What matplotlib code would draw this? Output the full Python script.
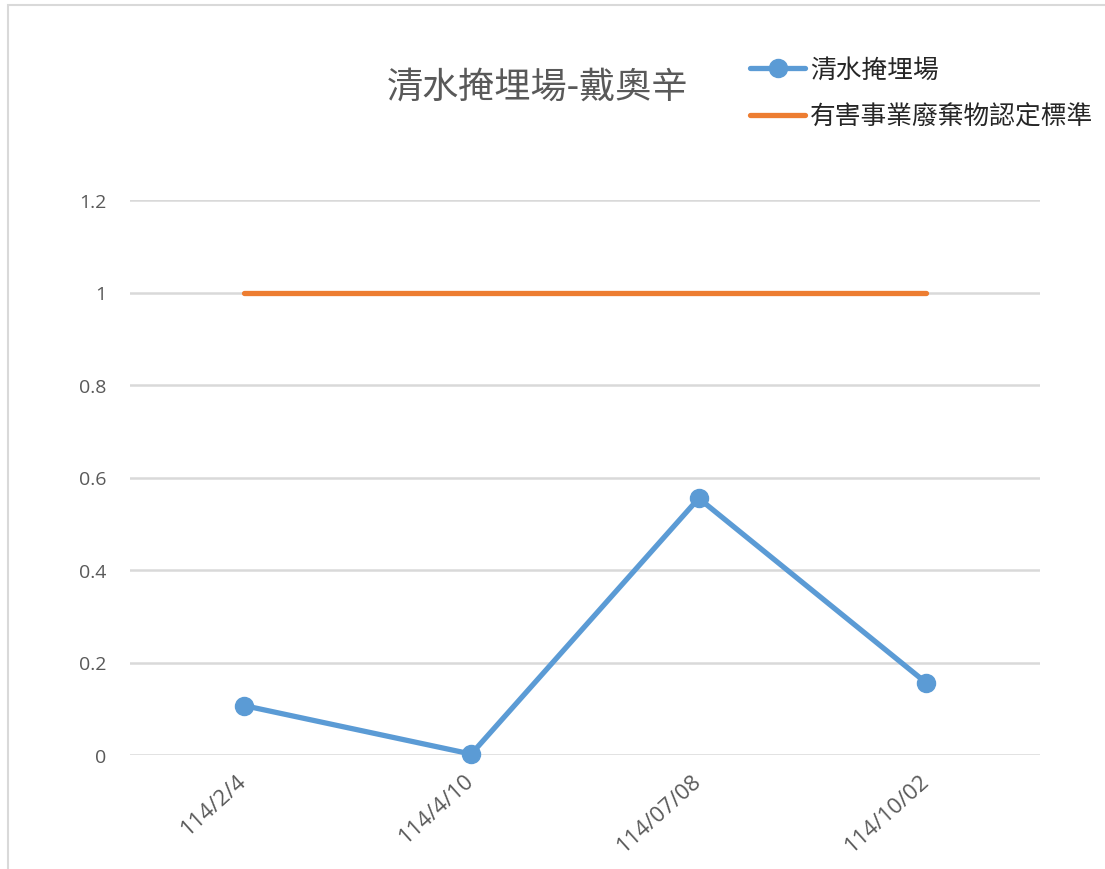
import matplotlib
matplotlib.use('Agg')
import matplotlib.pyplot as plt
from matplotlib.patches import Rectangle

# data
dates = ['114/2/4', '114/4/10', '114/07/08', '114/10/02']
dioxin = [0.107, 0.002, 0.555, 0.156]
standard = [1, 1, 1, 1]
yticks = [0, 0.2, 0.4, 0.6, 0.8, 1, 1.2]
ytick_labels = ['0', '0.2', '0.4', '0.6', '0.8', '1', '1.2']

title = '清水掩埋場-戴奧辛'
name_site = '清水掩埋場'
name_std = '有害事業廢棄物認定標準'

cjk = ['Noto Sans CJK TC', 'DejaVu Sans']
text_grey = '#595959'
blue = '#5B9BD5'
orange = '#ED7D31'

fig = plt.figure(figsize=(11.05, 8.70), dpi=100)
W, H = 1105, 870

# light frame of the chart area (right and bottom edges fall outside the image)
fig.patches.append(Rectangle((8 / W, -0.1), 1.2, 1.1 - 6 / H, transform=fig.transFigure,
                             fill=False, edgecolor='#D9D9D9', linewidth=1.5))

ax = fig.add_axes([130 / W, 1 - 756 / H, 910 / W, (756 - 201) / H])
x = list(range(len(dates)))

ax.plot(x, dioxin, color=blue, linewidth=3.8, marker='o', markersize=13,
        solid_capstyle='round', label=name_site, zorder=3, clip_on=False)
ax.plot(x, standard, color=orange, linewidth=3.8, solid_capstyle='round',
        label=name_std, zorder=3)

ax.set_xlim(-0.5, len(dates) - 0.5)
ax.set_ylim(0, 1.2)
ax.set_yticks(yticks)
ax.set_yticklabels(ytick_labels, fontfamily='Open Sans', fontsize=14, color=text_grey)
ax.set_xticks(x)
ax.set_xticklabels(dates, fontfamily='Open Sans', fontsize=16, color=text_grey,
                   rotation=42, ha='right', va='center', rotation_mode='anchor')
ax.tick_params(axis='both', length=0)
ax.tick_params(axis='y', pad=17)
ax.tick_params(axis='x', pad=16)
ax.grid(axis='y', color='#D9D9D9', linewidth=1.8)
ax.set_axisbelow(True)
for s in ax.spines.values():
    s.set_visible(False)

fig.text(538 / W, 1 - 88 / H, title, ha='center', va='center',
         fontfamily=cjk, fontsize=26, color=text_grey)

leg = fig.legend(loc='upper left', bbox_to_anchor=(750 / W, 1 - 58 / H),
                 frameon=False, prop={'family': cjk, 'size': 18.5},
                 handlelength=2.15, handletextpad=0.2, labelspacing=0.8,
                 borderaxespad=0, borderpad=0)
for t in leg.get_texts():
    t.set_color('#262626')

fig.savefig('out.png', dpi=100)
